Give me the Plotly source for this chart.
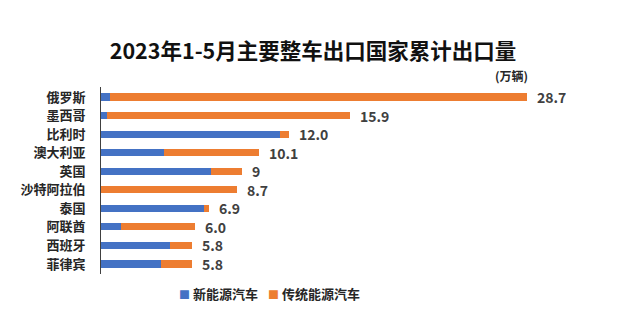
import plotly.graph_objects as go

# Data (万辆)
countries = ["俄罗斯", "墨西哥", "比利时", "澳大利亚", "英国", "沙特阿拉伯", "泰国", "阿联酋", "西班牙", "菲律宾"]
nev = [0.6, 0.4, 11.4, 4.0, 7.0, 0.0, 6.6, 1.3, 4.4, 3.8]          # 新能源汽车
bar_total = [27.2, 15.9, 12.0, 10.1, 9.0, 8.7, 6.9, 6.0, 5.8, 5.8]  # drawn bar length
total_labels = ["28.7", "15.9", "12.0", "10.1", "9", "8.7", "6.9", "6.0", "5.8", "5.8"]
traditional = [t - n for t, n in zip(bar_total, nev)]              # 传统能源汽车
series_names = ["新能源汽车", "传统能源汽车"]

BLUE = "#4472C4"
ORANGE = "#ED7D31"
FONT = "Noto Sans CJK SC"
TXT = "#262626"

fig = go.Figure()
fig.add_trace(go.Bar(y=countries, x=nev, orientation="h", name=series_names[0],
                     marker=dict(color=BLUE, line=dict(width=0)), showlegend=False))
fig.add_trace(go.Bar(y=countries, x=traditional, orientation="h", name=series_names[1],
                     marker=dict(color=ORANGE, line=dict(width=0)), showlegend=False))

annotations = []
# value labels at bar ends
for c, t, lab in zip(countries, bar_total, total_labels):
    annotations.append(dict(x=t, y=c, xref="x", yref="y", text="<b>%s</b>" % lab,
                            xanchor="left", yanchor="middle", xshift=8, showarrow=False,
                            height=16, valign="middle",
                            font=dict(family=FONT, size=14, color="#404040")))
# unit
annotations.append(dict(text="<b>(万辆)</b>", x=511, y=75, xref="paper", yref="paper",
                        showarrow=False, xanchor="center", yanchor="middle",
                        font=dict(family=FONT, size=12, color=TXT)))
# legend
legend_items = [(series_names[0], BLUE, 177), (series_names[1], ORANGE, 266)]
for name, col, px in legend_items:
    annotations.append(dict(text="<span style='color:%s;font-size:11px'>■</span> <b>%s</b>" % (col, name),
                            x=px, y=293, xref="paper", yref="paper", showarrow=False,
                            xanchor="left", yanchor="middle",
                            font=dict(family=FONT, size=13, color=TXT)))

L, R, T, B = 101, 48, 87, 54
W, H = 619, 328
pw, ph = W - L - R, H - T - B
for a in annotations:
    if a["xref"] == "paper":
        a["x"] = (a["x"] - L) / pw
        a["y"] = (H - B - a["y"]) / ph

fig.update_layout(
    width=W, height=H,
    barmode="stack", bargap=0.62,
    paper_bgcolor="white", plot_bgcolor="white",
    margin=dict(l=L, r=R, t=T, b=B),
    font=dict(family=FONT, color=TXT),
    showlegend=False,
    title=dict(text="<b>2023年1-5月主要整车出口国家累计出口量</b>",
               font=dict(family=FONT, size=21.5, color="#111111"),
               x=313 / W, xanchor="center", xref="container",
               y=1 - 51 / H, yanchor="middle", yref="container"),
    xaxis=dict(range=[0, 30], visible=False, showgrid=False, zeroline=False),
    yaxis=dict(categoryorder="array", categoryarray=countries, autorange="reversed",
               showline=True, linecolor="#404040", linewidth=1, ticks="",
               ticklabelstandoff=12,
               tickfont=dict(family=FONT, size=13, color=TXT),
               tickprefix="<b>", ticksuffix="</b>", showgrid=False),
    annotations=annotations,
)

fig.write_html("out.html")
